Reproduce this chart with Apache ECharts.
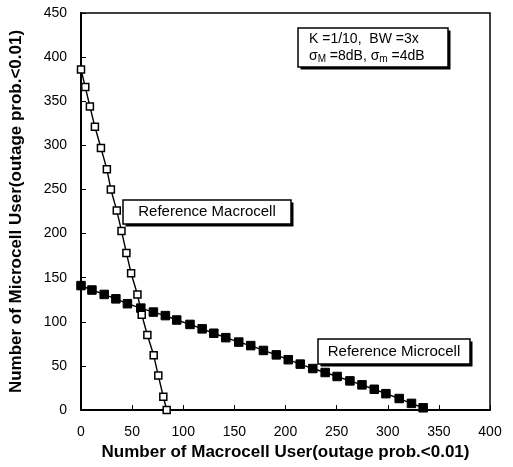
<!DOCTYPE html>
<html><head><meta charset="utf-8">
<script src="https://cdn.jsdelivr.net/npm/echarts@6/dist/echarts.min.js"></script>
<style>html,body{margin:0;padding:0;background:#fff}#c{width:513px;height:467px}</style>
</head><body><div id="c"></div>
<script>
var macroX = [0, 4.2, 8.7, 13.6, 19.5, 25.3, 29.2, 35, 39.6, 44.4, 49, 55.2, 59.4, 64.9, 71.1, 75.6, 80.5, 83.8];
var macroY = [386, 366, 344, 321, 297, 273, 250, 226, 203, 178, 155, 131, 108, 85, 62, 39, 15, 0];
var microX = [0, 10.7, 22.7, 34.1, 45.4, 58.5, 70.8, 82.5, 93.6, 106.6, 118.5, 129.9, 141.6, 154.3, 166, 178.4, 191, 202.7, 214.4, 226.7, 238.8, 250.5, 263, 274.8, 286.8, 298.2, 311.2, 323.2, 334.6];
var microY = [141, 136, 131, 126, 120.5, 115.5, 111, 107, 102, 97, 92, 87, 82, 77, 73, 67.5, 62.5, 57, 52, 47, 42.5, 38, 33, 28.5, 23.5, 18.5, 13, 7.5, 2.5];
var xTitle = 'Number of Macrocell User(outage prob.<0.01)';
var yTitle = 'Number of Microcell User(outage prob.<0.01)';

function pairs(xs, ys){ return xs.map(function(x,i){ return [x, ys[i]]; }); }

var font = 'Liberation Sans, Arial, sans-serif';
var chart = echarts.init(document.getElementById('c'));

function box(x, y, w, h, content, opts){
  opts = opts || {};
  var left = opts.align === 'left';
  return [
    {type:'rect', shape:{x:x+2.5, y:y+2.5, width:w, height:h}, style:{fill:'#000'}, z:10},
    {type:'rect', shape:{x:x, y:y, width:w, height:h}, style:{fill:'#fff', stroke:'#000', lineWidth:1.5}, z:11},
    {type:'text', x:left ? x + 11 : x + w/2, y:y + h/2, z:12,
     style:{text:content, fill:'#000', font:(opts.size||15) + 'px ' + font, align:left ? 'left' : 'center', verticalAlign:'middle', rich:opts.rich||{}, lineHeight:opts.lh||18}}
  ];
}

var rich = {
  s:{fontSize:14, fontFamily:font, fill:'#000', lineHeight:17},
  sub:{fontSize:10, fontFamily:font, verticalAlign:'bottom', padding:[7,0,0,0], lineHeight:17}
};

chart.setOption({
  animation:false,
  backgroundColor:'#fff',
  grid:{left:80, right:23, top:13, bottom:57, show:true, borderColor:'#000', borderWidth:1.5, backgroundColor:'transparent'},
  xAxis:{type:'value', min:0, max:400, interval:50,
    name:xTitle, nameLocation:'middle', nameGap:33,
    nameTextStyle:{fontFamily:font, fontWeight:'bold', fontSize:17, color:'#000'},
    axisLine:{lineStyle:{color:'#000', width:2}},
    axisTick:{inside:true, length:5, lineStyle:{color:'#000'}},
    axisLabel:{fontFamily:font, fontSize:14, color:'#000', margin:15},
    splitLine:{show:false}},
  yAxis:{type:'value', min:0, max:450, interval:50,
    name:yTitle, nameLocation:'middle', nameGap:56,
    nameTextStyle:{fontFamily:font, fontWeight:'bold', fontSize:17, color:'#000'},
    axisLine:{lineStyle:{color:'#000', width:2}},
    axisTick:{inside:true, length:5, lineStyle:{color:'#000'}},
    axisLabel:{fontFamily:font, fontSize:14, color:'#000', margin:14},
    splitLine:{show:false}},
  series:[
    {type:'line', name:'Reference Macrocell', data:pairs(macroX, macroY),
     symbol:'rect', symbolSize:7, showAllSymbol:true,
     lineStyle:{color:'#000', width:1.4},
     itemStyle:{color:'#fff', borderColor:'#000', borderWidth:1.5}, z:3},
    {type:'line', name:'Reference Microcell', data:pairs(microX, microY),
     symbol:'rect', symbolSize:8.5, showAllSymbol:true,
     lineStyle:{color:'#000', width:1.4},
     itemStyle:{color:'#000', borderColor:'#000'}, z:2}
  ],
  graphic:[].concat(
    box(123, 200, 168, 24, 'Reference Macrocell'),
    box(318, 339, 152, 25, 'Reference Microcell'),
    box(298, 28, 150, 39, '{s|K =1/10,  BW =3x}\n{s|σ}{sub|M}{s| =8dB, σ}{sub|m}{s| =4dB}', {align:'left', rich:rich})
  )
});
</script>
</body></html>
